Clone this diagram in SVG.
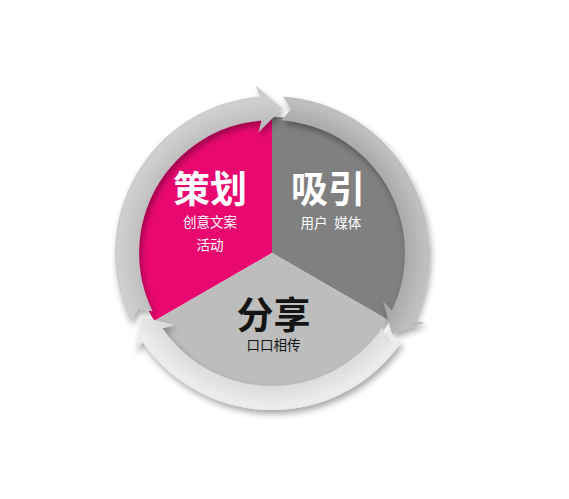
<svg xmlns="http://www.w3.org/2000/svg" width="569" height="499" viewBox="0 0 569 499">
  <style>
    .cjk { font-family: "Liberation Sans", "Noto Sans CJK SC", sans-serif; text-anchor: middle; }
    .head { font-size: 37px; font-weight: 700; }
    .sub { font-size: 13.5px; font-weight: 400; }
    .w { fill: #ffffff; }
    .k { fill: #141414; }
  </style>
  <defs>
    <filter id="shadow" x="-20%" y="-20%" width="140%" height="140%">
      <feDropShadow dx="2" dy="4" stdDeviation="3" flood-color="#000" flood-opacity="0.35"/>
    </filter>
    <radialGradient id="gA" gradientUnits="userSpaceOnUse" cx="272" cy="253" r="170">
      <stop offset="0.70" stop-color="#b4b4b4"/>
      <stop offset="0.80" stop-color="#c2c2c2"/>
      <stop offset="0.90" stop-color="#cfcfcf"/>
      <stop offset="1" stop-color="#c6c6c6"/>
    </radialGradient>
    <radialGradient id="gB" gradientUnits="userSpaceOnUse" cx="272" cy="253" r="170">
      <stop offset="0.70" stop-color="#a2a2a2"/>
      <stop offset="0.80" stop-color="#adadad"/>
      <stop offset="0.90" stop-color="#bfbfbf"/>
      <stop offset="1" stop-color="#b6b6b6"/>
    </radialGradient>
    <radialGradient id="gC" gradientUnits="userSpaceOnUse" cx="272" cy="253" r="170">
      <stop offset="0.70" stop-color="#d6d6d6"/>
      <stop offset="0.80" stop-color="#dedede"/>
      <stop offset="0.90" stop-color="#ececec"/>
      <stop offset="1" stop-color="#e4e4e4"/>
    </radialGradient>
  </defs>

  <rect width="569" height="499" fill="#ffffff"/>

  <g id="node-plan">
    <path d="M272,253 L154.2,321 A136,136 0 0 1 272,117 Z" fill="#e8086f"/>
    <text class="cjk head w" x="210" y="203">策划</text>
    <text class="cjk sub w" x="210" y="227">创意文案</text>
    <text class="cjk sub w" x="210" y="250">活动</text>
  </g>

  <g id="node-attract">
    <path d="M272,253 L272,117 A136,136 0 0 1 389.8,321 Z" fill="#808080"/>
    <text class="cjk head w" x="328" y="203">吸引</text>
    <text class="cjk sub w" x="331" y="228" style="word-spacing:3px">用户 媒体</text>
  </g>

  <g id="node-share">
    <path d="M272,253 L389.8,321 A136,136 0 0 1 154.2,321 Z" fill="#bdbdbd"/>
    <text class="cjk head k" x="273.5" y="329">分享</text>
    <text class="cjk sub k" x="273.5" y="350">口口相传</text>
  </g>

  <g id="connectors" filter="url(#shadow)">
    <path id="arrow-share-plan" fill="url(#gA)" d="M130.9,321.8 A157,157 0 0 1 259.7,96.5 L255.9,85.8 L282.1,108.3 L258.3,132.8 L261.6,120.4 A133,133 0 0 0 152.5,311.3 L138.0,308.5 Z"/>
    <path id="arrow-plan-attract" fill="url(#gB)" d="M283.0,96.4 A157,157 0 0 1 413.7,320.6 L424.9,322.7 L392.2,334.1 L383.0,301.2 L392.0,310.3 A133,133 0 0 0 281.3,120.3 L290.9,109.2 Z"/>
    <path id="arrow-attract-share" fill="url(#gC)" d="M402.2,340.8 A157,157 0 0 1 142.6,341.9 L135.2,350.6 L141.7,316.6 L174.7,325.0 L162.4,328.3 A133,133 0 0 0 382.3,327.4 L387.0,341.3 Z"/>
  </g>
</svg>
